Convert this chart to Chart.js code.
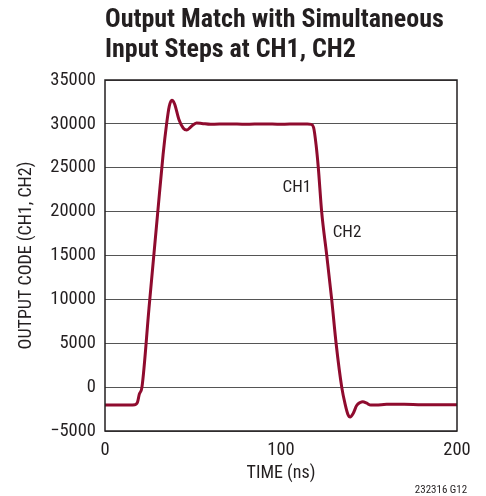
<!DOCTYPE html>
<html>
<head>
<meta charset="utf-8">
<script src="https://cdn.jsdelivr.net/npm/chart.js@4/dist/chart.umd.min.js"></script>
<style>
  html, body { margin: 0; padding: 0; background: #fff; }
  #wrap { position: relative; width: 486px; height: 496px; }
</style>
</head>
<body>
<div id="wrap"><canvas id="c" width="486" height="496"></canvas></div>
<script>
// ---- data ----
const titleLines = ["Output Match with Simultaneous", "Input Steps at CH1, CH2"];
const xTitle = "TIME (ns)";
const yTitle = "OUTPUT CODE (CH1, CH2)";
const footnote = "232316 G12";
const xTicks = [0, 100, 200];
const yTicks = [-5000, 0, 5000, 10000, 15000, 20000, 25000, 30000, 35000];
const timeNs = [0, 10, 17, 18.5, 19.5, 21, 25, 30, 33, 35, 36.5, 38, 39.5, 42, 44.5, 46.5, 49, 52, 55, 60, 70, 80, 90, 100, 110, 115, 117, 118.5, 120, 121.2, 123.1, 126, 128.8, 131.3, 134.5, 136.5, 138, 139.3, 141, 143, 145, 146.5, 148.5, 151, 154, 160, 170, 180, 190, 200];
const outputCode = [-2050, -2050, -2000, -1700, -800, 0, 9000, 20000, 26500, 30000, 32000, 32700, 32300, 30500, 29500, 29300, 29700, 30100, 30050, 29950, 30000, 29950, 30000, 29950, 30000, 30000, 29950, 29600, 27500, 25000, 20000, 15000, 10000, 5000, 0, -2000, -3100, -3400, -3000, -2100, -1750, -1660, -1800, -2050, -2050, -1950, -1950, -2000, -2000, -2000];
const channelLabels = ["CH1", "CH2"];
const channelLabelX = [109, 137.5];
const channelLabelY = [22700, 17560];

const COND = "'Roboto Condensed', 'Open Sans Condensed', 'DejaVu Sans Condensed', sans-serif";
const TEXT = '#231f20';
const LINE = '#8f0b2e';

const points = timeNs.map((t, i) => ({ x: t, y: outputCode[i] }));

const annotations = {
  id: 'annotations',
  afterDraw(chart) {
    const { ctx, chartArea: a, scales } = chart;
    ctx.save();
    // plot frame
    ctx.strokeStyle = '#231f20';
    ctx.lineWidth = 1.5;
    ctx.strokeRect(a.left, a.top, a.right - a.left, a.bottom - a.top);
    // channel labels
    ctx.fillStyle = TEXT;
    ctx.font = '17px ' + COND;
    ctx.textAlign = 'center';
    ctx.textBaseline = 'middle';
    channelLabels.forEach((lab, i) => {
      ctx.fillText(lab, scales.x.getPixelForValue(channelLabelX[i]), scales.y.getPixelForValue(channelLabelY[i]));
    });
    // footnote
    ctx.font = '11px ' + COND;
    ctx.fillText(footnote, 441, 490);
    ctx.restore();
  }
};

new Chart(document.getElementById('c'), {
  type: 'line',
  data: {
    datasets: [{
      data: points,
      borderColor: LINE,
      borderWidth: 3,
      pointRadius: 0,
      fill: false,
      cubicInterpolationMode: 'monotone'
    }]
  },
  options: {
    responsive: false,
    animation: false,
    layout: { padding: { left: 0, right: 29, top: 0, bottom: 0 } },
    plugins: {
      legend: { display: false },
      tooltip: { enabled: false },
      title: {
        display: true,
        text: titleLines,
        align: 'start',
        fullSize: false,
        color: TEXT,
        font: { family: COND, size: 26, weight: 'bold', lineHeight: 30 / 26 },
        padding: { top: 5, bottom: 15 }
      }
    },
    scales: {
      x: {
        type: 'linear',
        min: 0, max: 200,
        afterBuildTicks(scale) { scale.ticks = xTicks.map(v => ({ value: v })); },
        afterFit(scale) { scale.height = 65; },
        grid: { display: false, drawTicks: false },
        border: { display: false },
        ticks: { padding: 8, color: TEXT, font: { family: COND, size: 18.5 }, maxRotation: 0 },
        title: { display: true, text: xTitle, color: TEXT, font: { family: COND, size: 18 }, padding: { top: 12, bottom: 12 } }
      },
      y: {
        type: 'linear',
        min: -5000, max: 35000,
        afterBuildTicks(scale) { scale.ticks = yTicks.map(v => ({ value: v })); },
        afterFit(scale) { scale.width = 105; },
        grid: { color: '#555', lineWidth: 1, drawTicks: false },
        border: { display: false },
        ticks: {
          padding: 9, color: TEXT, font: { family: COND, size: 18.5 },
          callback: v => (v < 0 ? '\u2212' + Math.abs(v) : String(v))
        },
        title: { display: true, text: yTitle, color: TEXT, font: { family: COND, size: 18 }, padding: { top: 16, bottom: 16 } }
      }
    }
  },
  plugins: [annotations]
});
</script>
</body>
</html>
